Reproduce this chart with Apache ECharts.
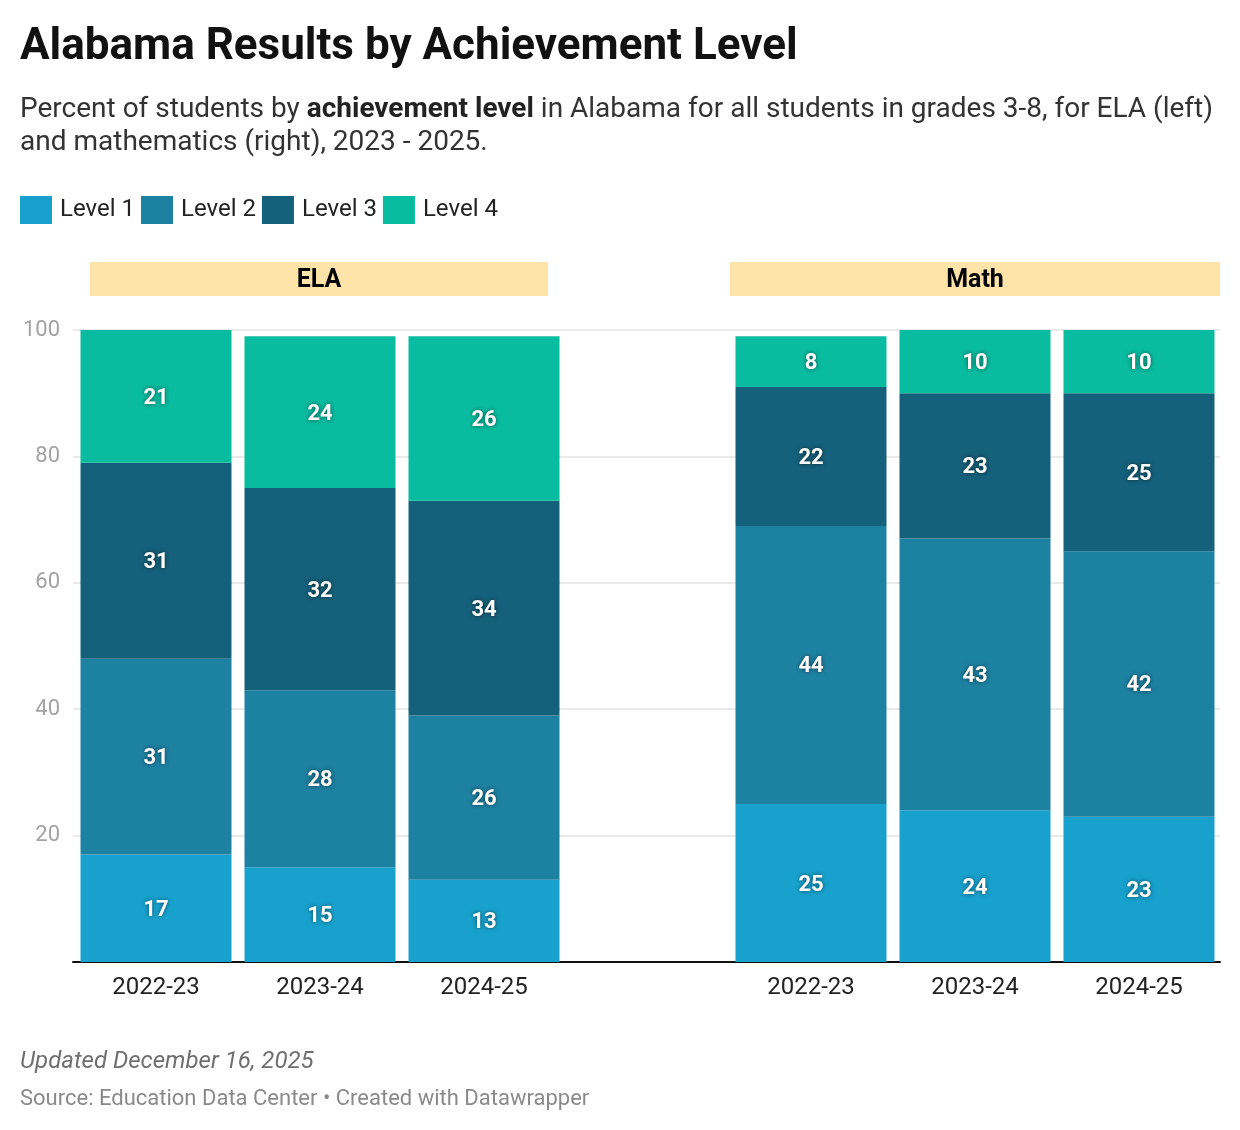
<!DOCTYPE html>
<html>
<head>
<meta charset="utf-8">
<title>Alabama Results by Achievement Level</title>
<script src="https://cdn.jsdelivr.net/npm/echarts@6/dist/echarts.min.js"></script>
<style>
  html, body { margin: 0; padding: 0; background: #fff; }
  #chart { width: 1240px; height: 1130px; }
</style>
</head>
<body>
<div id="chart"></div>
<script>
// years shown under each panel
var years = ['2022-23', '2023-24', '2024-25'];
var levels = ['Level 1', 'Level 2', 'Level 3', 'Level 4'];
var levelColors = ['#18a1cd', '#1d81a2', '#15607a', '#09bb9f'];

// ELA, percent per level (bottom to top)
var elaLevel1 = [17, 15, 13];
var elaLevel2 = [31, 28, 26];
var elaLevel3 = [31, 32, 34];
var elaLevel4 = [21, 24, 26];

// Math, percent per level
var mathLevel1 = [25, 24, 23];
var mathLevel2 = [44, 43, 42];
var mathLevel3 = [22, 23, 25];
var mathLevel4 = [8, 10, 10];

var yTicks = [0, 20, 40, 60, 80, 100];

var font = 'Roboto, "Noto Sans", sans-serif';
var chart = echarts.init(document.getElementById('chart'));

var labelStyle = {
    show: true,
    position: 'inside',
    offset: [0, 2],
    color: '#fff',
    fontFamily: font,
    fontWeight: 'bold',
    fontSize: 22,
    textShadowColor: 'rgba(0,0,0,0.55)',
    textShadowBlur: 4
};

function makeSeries(data, idx, axisIdx, stack) {
    return {
        type: 'bar',
        name: levels[idx],
        stack: stack,
        xAxisIndex: axisIdx,
        yAxisIndex: axisIdx,
        barWidth: 151,
        itemStyle: {color: levelColors[idx]},
        label: labelStyle,
        emphasis: {disabled: true},
        data: data
    };
}

var elaData = [elaLevel1, elaLevel2, elaLevel3, elaLevel4];
var mathData = [mathLevel1, mathLevel2, mathLevel3, mathLevel4];
var series = [];
for (var i = 0; i < 4; i++) series.push(makeSeries(elaData[i], i, 1, 'ela'));
for (var j = 0; j < 4; j++) series.push(makeSeries(mathData[j], j, 2, 'math'));

var catAxis = function (gridIdx) {
    return {
        type: 'category',
        gridIndex: gridIdx,
        data: years,
        axisLine: {show: false},
        axisTick: {show: false},
        axisLabel: {color: '#222', fontFamily: font, fontSize: 24, margin: 14}
    };
};
var hiddenY = function (gridIdx) {
    return {type: 'value', gridIndex: gridIdx, min: 0, max: 100, show: false};
};

chart.setOption({
    animation: false,
    textStyle: {fontFamily: font},
    title: [
        {
            text: 'Alabama Results by Achievement Level',
            left: 20, top: 23, padding: 0,
            textStyle: {fontSize: 44, fontWeight: 'bold', color: '#111', fontFamily: font, lineHeight: 50}
        },
        {
            text: 'Percent of students by {b|achievement level} in Alabama for all students in grades 3-8, for ELA (left)\nand mathematics (right), 2023 - 2025.',
            left: 20, top: 93, padding: 0,
            textStyle: {
                fontSize: 28, color: '#333', fontFamily: font, lineHeight: 33, fontWeight: 'normal',
                rich: {b: {fontSize: 28, fontWeight: 'bold', color: '#222', fontFamily: font, lineHeight: 33}}
            }
        },
        {
            text: 'Updated December 16, 2025',
            left: 20, top: 1050, padding: 0,
            textStyle: {fontSize: 24, fontStyle: 'italic', fontWeight: 'normal', color: '#6f6f6f', fontFamily: font}
        },
        {
            text: 'Source: Education Data Center \u2022 Created with Datawrapper',
            left: 20, top: 1088, padding: 0,
            textStyle: {fontSize: 22, fontWeight: 'normal', color: '#8a8a8a', fontFamily: font}
        }
    ],
    legend: {
        left: 20, top: 196, padding: 0,
        itemWidth: 32, itemHeight: 28, itemGap: 6,
        icon: 'rect',
        data: levels,
        selectedMode: false,
        textStyle: {fontSize: 24, color: '#222', fontFamily: font, padding: [2, 0, 0, 3]}
    },
    grid: [
        {left: 73, right: 20, top: 330, bottom: 168},
        {left: 74, width: 492, top: 330, bottom: 168},
        {left: 729, width: 492, top: 330, bottom: 168}
    ],
    xAxis: [
        {
            type: 'value', gridIndex: 0, min: 0, max: 1,
            axisLine: {show: true, onZero: false, lineStyle: {color: '#111', width: 2}},
            axisTick: {show: false}, axisLabel: {show: false}, splitLine: {show: false}
        },
        catAxis(1),
        catAxis(2)
    ],
    yAxis: [
        {
            type: 'value', gridIndex: 0,
            min: yTicks[0], max: yTicks[yTicks.length - 1], interval: 20,
            axisLine: {show: false}, axisTick: {show: false},
            axisLabel: {
                color: '#a3a3a3', fontFamily: font, fontSize: 22, margin: 13, padding: [4, 0, 0, 0],
                formatter: function (v) { return v === 0 ? '' : String(v); }
            },
            splitLine: {lineStyle: {color: '#e3e3e3', width: 1.5}}
        },
        hiddenY(1),
        hiddenY(2)
    ],
    graphic: [
        {
            type: 'group', left: 90, top: 262,
            children: [
                {type: 'rect', shape: {x: 0, y: 0, width: 458, height: 34}, style: {fill: '#fee4a9'}},
                {type: 'text', x: 229, y: 19, style: {text: 'ELA', fill: '#000', font: 'bold 25px ' + font, align: 'center', verticalAlign: 'middle'}}
            ]
        },
        {
            type: 'group', left: 730, top: 262,
            children: [
                {type: 'rect', shape: {x: 0, y: 0, width: 490, height: 34}, style: {fill: '#fee4a9'}},
                {type: 'text', x: 245, y: 19, style: {text: 'Math', fill: '#000', font: 'bold 25px ' + font, align: 'center', verticalAlign: 'middle'}}
            ]
        }
    ],
    series: series
});
window.onresize = chart.resize;
</script>
</body>
</html>
